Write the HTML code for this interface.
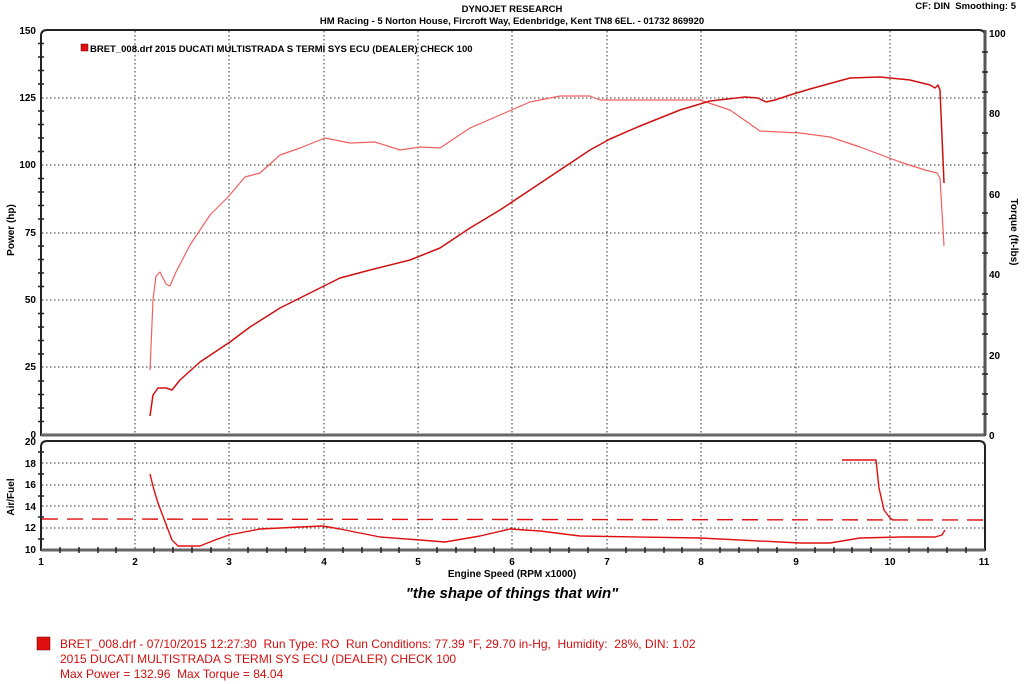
<!DOCTYPE html>
<html><head><meta charset="utf-8"><style>
html,body{margin:0;padding:0;background:#fff;}
svg{display:block;font-family:"Liberation Sans",sans-serif;}
text{white-space:pre;}
</style></head><body>
<svg width="1024" height="684" viewBox="0 0 1024 684" xmlns="http://www.w3.org/2000/svg">
<text x="512" y="12" font-size="9.5" font-weight="bold" text-anchor="middle">DYNOJET RESEARCH</text>
<text x="512" y="24" font-size="9.5" font-weight="bold" text-anchor="middle">HM Racing - 5 Norton House, Fircroft Way, Edenbridge, Kent TN8 6EL. - 01732 869920</text>
<text x="1016" y="9" font-size="9.5" font-weight="bold" text-anchor="end">CF: DIN  Smoothing: 5</text>
<g stroke="#333" stroke-width="1" stroke-dasharray="1.5,2.5">
<line x1="135" y1="31" x2="135" y2="434"/><line x1="229" y1="31" x2="229" y2="434"/><line x1="324" y1="31" x2="324" y2="434"/><line x1="418" y1="31" x2="418" y2="434"/><line x1="512" y1="31" x2="512" y2="434"/><line x1="607" y1="31" x2="607" y2="434"/><line x1="701" y1="31" x2="701" y2="434"/><line x1="796" y1="31" x2="796" y2="434"/><line x1="890" y1="31" x2="890" y2="434"/>
<line x1="42" y1="98" x2="984" y2="98"/><line x1="42" y1="165" x2="984" y2="165"/><line x1="42" y1="233" x2="984" y2="233"/><line x1="42" y1="300" x2="984" y2="300"/><line x1="42" y1="367" x2="984" y2="367"/>
<line x1="135" y1="443" x2="135" y2="549"/><line x1="229" y1="443" x2="229" y2="549"/><line x1="324" y1="443" x2="324" y2="549"/><line x1="418" y1="443" x2="418" y2="549"/><line x1="512" y1="443" x2="512" y2="549"/><line x1="607" y1="443" x2="607" y2="549"/><line x1="701" y1="443" x2="701" y2="549"/><line x1="796" y1="443" x2="796" y2="549"/><line x1="890" y1="443" x2="890" y2="549"/>
<line x1="42" y1="463" x2="984" y2="463"/><line x1="42" y1="485" x2="984" y2="485"/><line x1="42" y1="506" x2="984" y2="506"/><line x1="42" y1="528" x2="984" y2="528"/>
</g>
<path d="M41,435 L41,36 Q41,30 47,30 L979,30 Q985,30 985,36 L985,435 Z" fill="none" stroke="#222" stroke-width="2"/>
<line x1="41" y1="435" x2="985" y2="435" stroke="#666" stroke-width="3"/>
<path d="M41,550 L41,447 Q41,441 47,441 L979,441 Q985,441 985,447 L985,550 Z" fill="none" stroke="#222" stroke-width="2"/>
<line x1="41" y1="550" x2="985" y2="550" stroke="#666" stroke-width="3"/>
<line x1="985" y1="30" x2="985" y2="435" stroke="#555" stroke-width="3"/>
<!-- minor ticks -->
<path fill="none" stroke="#222" stroke-width="1.5" d="M38,43.5h6M38,57h6M38,70.5h6M38,84h6M38,111h6M38,124.5h6M38,138h6M38,151.5h6M38,178.5h6M38,192h6M38,205.5h6M38,219h6M38,246h6M38,259.5h6M38,273h6M38,286.5h6M38,313.5h6M38,327h6M38,340.5h6M38,354h6M38,381h6M38,394.5h6M38,408h6M38,421.5h6
M982,52h6M982,72h6M982,92h6M982,133h6M982,153h6M982,173h6M982,213h6M982,233h6M982,253h6M982,294h6M982,314h6M982,334h6M982,374h6M982,394h6M982,414h6
M38,452h6M38,474h6M38,496h6M38,517h6M38,539h6
M60,547v6M79,547v6M98,547v6M116,547v6M154,547v6M173,547v6M192,547v6M211,547v6M248,547v6M267,547v6M286,547v6M305,547v6M343,547v6M362,547v6M381,547v6M399,547v6M437,547v6M456,547v6M475,547v6M494,547v6M531,547v6M550,547v6M569,547v6M588,547v6M626,547v6M645,547v6M664,547v6M682,547v6M720,547v6M739,547v6M758,547v6M777,547v6M815,547v6M834,547v6M852,547v6M871,547v6M909,547v6M928,547v6M947,547v6M966,547v6"/>
<g font-size="10" font-weight="bold" text-anchor="end">
<text x="36" y="34">150</text><text x="36" y="101">125</text><text x="36" y="168">100</text><text x="36" y="236">75</text><text x="36" y="303">50</text><text x="36" y="370">25</text><text x="36" y="438">0</text>
<text x="36" y="445">20</text><text x="36" y="467">18</text><text x="36" y="488">16</text><text x="36" y="510">14</text><text x="36" y="531">12</text><text x="36" y="553">10</text>
</g>
<g font-size="10" font-weight="bold">
<text x="989" y="37">100</text><text x="989" y="117">80</text><text x="989" y="198">60</text><text x="989" y="278">40</text><text x="989" y="359">20</text><text x="989" y="439">0</text>
</g>
<g font-size="10" font-weight="bold" text-anchor="middle">
<text x="41" y="565">1</text><text x="135" y="565">2</text><text x="229" y="565">3</text><text x="324" y="565">4</text><text x="418" y="565">5</text><text x="512" y="565">6</text><text x="607" y="565">7</text><text x="701" y="565">8</text><text x="796" y="565">9</text><text x="890" y="565">10</text><text x="984" y="565">11</text>
<text x="512" y="577">Engine Speed (RPM x1000)</text>
</g>
<text transform="translate(14,230) rotate(-90)" font-size="10" font-weight="bold" text-anchor="middle">Power (hp)</text>
<text transform="translate(1011,232) rotate(90)" font-size="10" font-weight="bold" text-anchor="middle">Torque (ft-lbs)</text>
<text transform="translate(14,497) rotate(-90)" font-size="10" font-weight="bold" text-anchor="middle">Air/Fuel</text>
<rect x="81" y="44" width="7" height="7" fill="#e01010" stroke="#600" stroke-width="0.5"/>
<text x="90" y="52" font-size="9.5" font-weight="bold">BRET_008.drf 2015 DUCATI MULTISTRADA S TERMI SYS ECU (DEALER) CHECK 100</text>
<g fill="none" stroke-linejoin="round">
<polyline stroke="#f06060" stroke-width="1.2" points="150,370 153,300 156,276 160,272 166,284 170,286 176,272 190,245 210,215 228,197 245,177 260,173 280,155 300,148 325,138 350,143 375,142 400,150 420,147 440,148 470,128 500,115 530,102 560,96 590,96 600,100 650,100 700,100 730,110 760,131 800,133 830,137 860,147 900,162 925,170 937,173 940,178 944,246"/>
<polyline stroke="#d01010" stroke-width="1.5" points="150,416 153,395 158,388 166,388 172,390 180,380 200,362 230,342 250,327 280,308 320,288 340,278 370,270 410,260 440,248 470,228 500,210 530,190 560,170 590,150 610,139 640,126 680,110 710,101 745,97 758,98 766,102 775,100 790,95 810,89 850,78 880,77 910,80 930,85 935,88 938,85 940,90 944,183"/>
<polyline stroke="#e01010" stroke-width="1.4" points="150,474 154,490 158,503 164,519 172,540 178,546 200,546 215,540 229,535 260,529 300,527 323,526 340,529 380,537 420,540 445,542 480,536 510,529 540,531 580,536 700,538 800,543 830,543 860,538 900,537 935,537 942,535 945,530"/>
<polyline stroke="#e01010" stroke-width="1.4" points="842,460 876,460 879,488 884,510 890,518 893,520"/>
<line x1="42" y1="519" x2="984" y2="520" stroke="#e01010" stroke-width="1.4" stroke-dasharray="16,9"/>
</g>
<text x="512" y="598" font-size="15" font-weight="bold" font-style="italic" text-anchor="middle">"the shape of things that win"</text>
<rect x="37" y="637" width="13" height="13" fill="#e01010" stroke="#600" stroke-width="0.5"/>
<g font-size="12" fill="#d01010">
<text x="60" y="648">BRET_008.drf - 07/10/2015 12:27:30  Run Type: RO  Run Conditions: 77.39 °F, 29.70 in-Hg,  Humidity:  28%, DIN: 1.02</text>
<text x="60" y="663">2015 DUCATI MULTISTRADA S TERMI SYS ECU (DEALER) CHECK 100</text>
<text x="60" y="678">Max Power = 132.96  Max Torque = 84.04</text>
</g>
</svg>
</body></html>
